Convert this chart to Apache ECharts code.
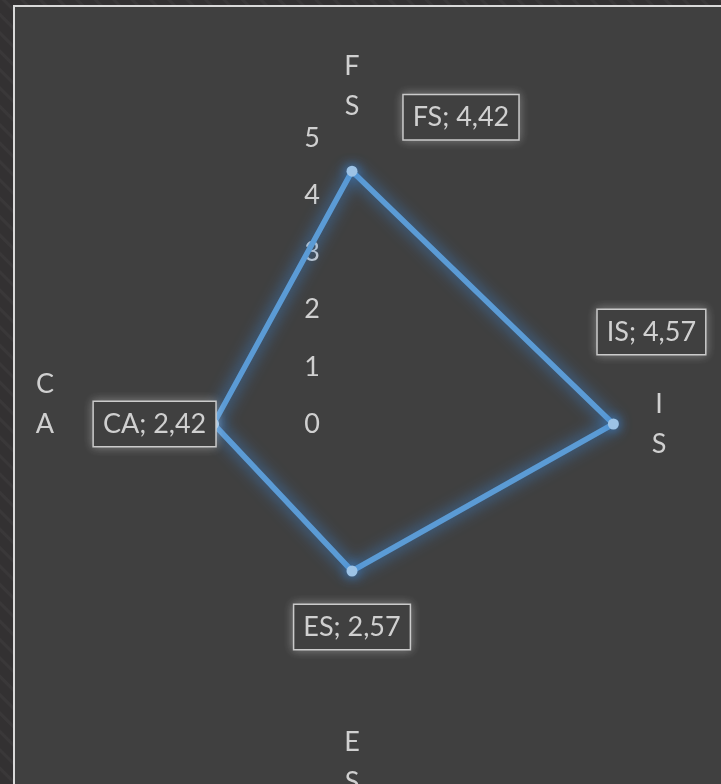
<!DOCTYPE html>
<html>
<head>
<meta charset="utf-8">
<script src="https://cdn.jsdelivr.net/npm/echarts@6/dist/echarts.min.js"></script>
<style>
  html, body { margin: 0; padding: 0; }
  body {
    width: 721px; height: 784px; overflow: hidden;
    background: #333132 repeating-linear-gradient(45deg, #333132 0px, #333132 9px, #3a3839 10px, #3a3839 12px, #333132 13px);
  }
  #chart { width: 721px; height: 784px; }
</style>
</head>
<body>
<div id="chart"></div>
<script>
// indicators in echarts order (counterclockwise from top)
var indicators = ["FS", "CA", "ES", "IS"];
var values = [4.42, 2.42, 2.57, 4.57];
var maxValue = 5;

var textColor = "#d0d0d0";
var fontFamily = "Lato, 'DejaVu Sans', sans-serif";

// label offsets from their point
var labelShift = {
  FS: [109, -54],
  CA: [-59, 0],
  ES: [0, 56],
  IS: [38, -92]
};

var chart = echarts.init(document.getElementById("chart"));

var option = {
  backgroundColor: "transparent",
  animation: false,
  textStyle: { fontFamily: fontFamily },
  graphic: [
    {
      type: "rect",
      z: -10,
      shape: { x: 14, y: 6, width: 720, height: 800 },
      style: { fill: "#404040", stroke: "#d9d9d9", lineWidth: 2 }
    }
  ],
  radar: {
    center: [352, 424],
    radius: 286,
    shape: "polygon",
    splitNumber: 5,
    nameGap: 12,
    axisName: {
      color: textColor,
      fontSize: 27,
      fontFamily: fontFamily,
      formatter: function(name) {
        var lines = name.split("").map(function(c) {
          return "{c|" + c + "}";
        });
        // excel sets the left name one line higher
        if (name === "CA") lines.push("{c| }");
        return lines.join("\n");
      },
      rich: {
        c: {
          width: 18,
          align: "center",
          lineHeight: 40,
          fontSize: 27,
          color: textColor,
          fontFamily: fontFamily
        }
      }
    },
    axisLine: { show: false },
    splitLine: { show: false },
    splitArea: { show: false },
    axisTick: { show: false },
    axisLabel: { show: false },
    indicator: indicators.map(function(name, i) {
      var ind = { name: name, min: 0, max: maxValue };
      if (i === 0) {
        ind.axisLabel = {
          show: true,
          color: textColor,
          fontSize: 27,
          fontFamily: fontFamily,
          margin: 32,
          showMinLabel: true,
          showMaxLabel: true
        };
      }
      return ind;
    })
  },
  series: [
    {
      type: "radar",
      symbol: "circle",
      symbolSize: 11,
      lineStyle: {
        color: "#5b9bd5",
        width: 5.5,
        shadowBlur: 16,
        shadowColor: "rgba(60,135,215,1)"
      },
      itemStyle: {
        color: "#9dc3e6",
        borderWidth: 0,
        shadowBlur: 12,
        shadowColor: "rgba(60,135,215,1)"
      },
      label: {
        show: true,
        position: "inside",
        color: textColor,
        fontSize: 27,
        fontFamily: fontFamily,
        backgroundColor: "#404040",
        borderColor: "#c4c4c4",
        borderWidth: 1.5,
        padding: [9, 9, 8, 9],
        shadowBlur: 10,
        shadowColor: "rgba(255,255,255,0.3)",
        formatter: function(p) {
          var i = values.indexOf(p.value);
          return indicators[i] + "; " + p.value.toFixed(2).replace(".", ",");
        }
      },
      labelLayout: function(p) {
        var key = p.text.split(";")[0];
        var s = labelShift[key] || [0, 0];
        return { dx: s[0], dy: s[1] };
      },
      data: [{ value: values, name: "Score" }]
    }
  ]
};

chart.setOption(option);
</script>
</body>
</html>
